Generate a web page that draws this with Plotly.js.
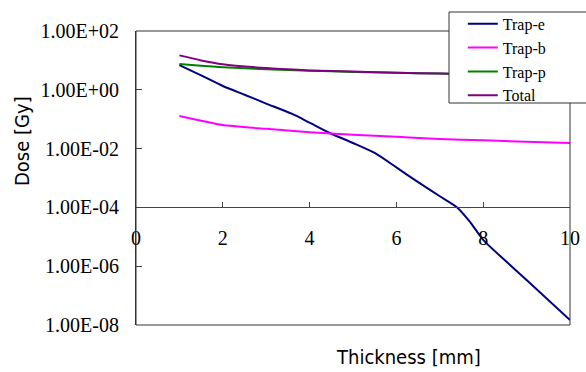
<!DOCTYPE html>
<html>
<head>
<meta charset="utf-8">
<script src="https://cdn.plot.ly/plotly-3.0.1.min.js"></script>
<style>html,body{margin:0;padding:0;background:#fff;}#chart{width:586px;height:372px;}</style>
</head>
<body>
<div id="chart"></div>
<script>
// Thickness [mm]
const thicknessE = [1.0, 1.5, 2.0, 2.5, 3.0, 3.6, 4.0, 4.5, 5.0, 5.5, 6.0, 6.5, 7.0, 7.4, 7.7, 8.0, 9.0, 10.0];
// Dose [Gy]
const trapE = [6.9, 3.1, 1.35, 0.68, 0.34, 0.151, 0.076, 0.032, 0.0155, 0.0071, 0.00229, 0.00072, 0.00024, 0.0001, 0.0000316, 0.0000079, 0.00000034, 0.0000000148];

const thickness = [1, 1.5, 2, 3, 4, 5, 6, 7, 8, 9, 10];
const trapB = [0.129, 0.089, 0.063, 0.047, 0.036, 0.0295, 0.0251, 0.0214, 0.0191, 0.017, 0.0155];
const trapP = [7.6, 6.6, 5.9, 5.0, 4.47, 4.07, 3.8, 3.55, 3.31, 3.16, 3.02];
const total = [14.8, 10.0, 7.4, 5.5, 4.57, 4.17, 3.8, 3.59, 3.35, 3.16, 3.02];

const yTickVals = [1e2, 1e0, 1e-2, 1e-4, 1e-6, 1e-8];
const yTickText = ["1.00E+02", "1.00E+00", "1.00E-02", "1.00E-04", "1.00E-06", "1.00E-08"];
const xTickVals = [0, 2, 4, 6, 8, 10];

const serif = "Liberation Serif";
const gothic = "DejaVu Sans Condensed";

const traces = [
  {x: thicknessE, y: trapE, name: "Trap-e", line: {color: "#000080"}},
  {x: thickness, y: trapB, name: "Trap-b", line: {color: "#FF00FF"}},
  {x: thickness, y: trapP, name: "Trap-p", line: {color: "#008000"}},
  {x: thickness, y: total, name: "Total", line: {color: "#800080"}}
].map(t => Object.assign({type: "scatter", mode: "lines"}, t, {line: Object.assign({width: 2, shape: "spline", smoothing: 0.6}, t.line)}));

const layout = {
  width: 586, height: 372,
  margin: {l: 136, r: 16, t: 31, b: 47, autoexpand: false},
  paper_bgcolor: "#fff", plot_bgcolor: "#fff",
  font: {family: serif, color: "#000"},
  showlegend: true,
  legend: {
    x: 0.753, xanchor: "left", y: 1.082, yanchor: "top",
    bgcolor: "rgba(0,0,0,0)", borderwidth: 0,
    font: {family: serif, size: 16, color: "#000"},
    tracegroupgap: 0, itemwidth: 30
  },
  xaxis: {
    range: [0, 10], tickvals: xTickVals, ticktext: xTickVals.map(String),
    anchor: "free", position: 0.4,
    showline: true, linecolor: "#444", linewidth: 1,
    ticks: "inside", ticklen: 5, tickcolor: "#444",
    showgrid: false, zeroline: false,
    ticklabelstandoff: 13,
    tickfont: {family: serif, size: 20, color: "#000"}
  },
  yaxis: {
    type: "log", range: [-8, 2], tickvals: yTickVals, ticktext: yTickText,
    showline: true, linecolor: "#333", linewidth: 1,
    ticks: "inside", ticklen: 6, tickcolor: "#444",
    showgrid: false, zeroline: false,
    ticklabelstandoff: 12,
    tickfont: {family: serif, size: 20, color: "#000"}
  },
  shapes: [
    {type: "rect", xref: "paper", yref: "paper", x0: 0, x1: 1, y0: 0, y1: 1, line: {color: "#333", width: 1}, layer: "above"},
    {type: "rect", xref: "paper", yref: "paper", x0: (449 - 136) / 434, x1: (600 - 136) / 434, y0: (325 - 103) / 294, y1: (325 - 12) / 294, line: {color: "#333", width: 1}, fillcolor: "#fff", layer: "above"}
  ],
  annotations: [
    {text: "Thickness [mm]", xref: "paper", yref: "paper", x: (408 - 136) / 434, y: (325 - 357) / 294, xanchor: "center", yanchor: "middle", showarrow: false, font: {family: gothic, size: 20, color: "#000"}},
    {text: "Dose [Gy]", xref: "paper", yref: "paper", x: (22 - 136) / 434, y: (325 - 141) / 294, xanchor: "center", yanchor: "middle", textangle: -90, showarrow: false, font: {family: gothic, size: 20, color: "#000"}}
  ]
};

Plotly.newPlot("chart", traces, layout, {displayModeBar: false, staticPlot: true});
</script>
</body>
</html>
